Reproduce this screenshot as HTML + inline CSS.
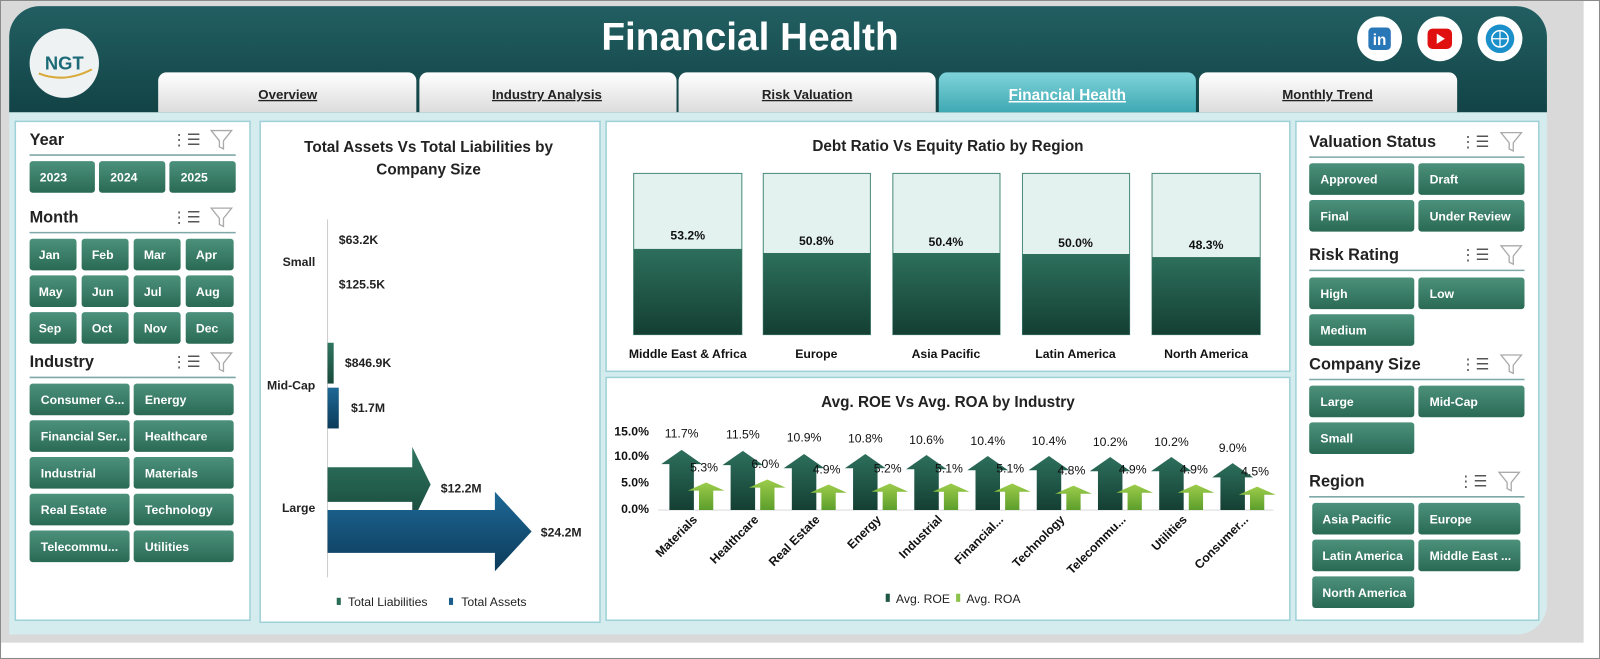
<!DOCTYPE html>
<html><head><meta charset="utf-8"><style>
html,body{margin:0;padding:0;background:#fff;width:1600px;height:659px;overflow:hidden}
svg{display:block}
text{font-family:"Liberation Sans",sans-serif}
.b{font-weight:bold}
.bt{fill:#fff;font-weight:bold;font-size:12px}
.st{fill:#222;font-weight:bold;font-size:16px}
</style></head><body>
<svg width="1600" height="659" viewBox="0 0 1568 646" preserveAspectRatio="none" xmlns="http://www.w3.org/2000/svg">
<defs>
<linearGradient id="hdr" x1="0" y1="0" x2="0" y2="1"><stop offset="0" stop-color="#225f62"/><stop offset="1" stop-color="#124346"/></linearGradient>
<linearGradient id="btn" x1="0" y1="0" x2="0" y2="1"><stop offset="0" stop-color="#4c917b"/><stop offset="1" stop-color="#2a6a55"/></linearGradient>
<linearGradient id="tab" x1="0" y1="0" x2="0" y2="1"><stop offset="0" stop-color="#ffffff"/><stop offset="1" stop-color="#dcdcdc"/></linearGradient>
<linearGradient id="tabA" x1="0" y1="0" x2="0" y2="1"><stop offset="0" stop-color="#7fd3da"/><stop offset="1" stop-color="#3fa9b3"/></linearGradient>
<linearGradient id="dk" x1="0" y1="0" x2="0" y2="1"><stop offset="0" stop-color="#2d6f5c"/><stop offset="1" stop-color="#143f33"/></linearGradient>
<linearGradient id="lg" x1="0" y1="0" x2="0" y2="1"><stop offset="0" stop-color="#9ccc4a"/><stop offset="1" stop-color="#5c9e2c"/></linearGradient>
<linearGradient id="bl" x1="0" y1="0" x2="0" y2="1"><stop offset="0" stop-color="#1e6896"/><stop offset="1" stop-color="#0c3b5a"/></linearGradient>
<linearGradient id="gr" x1="0" y1="0" x2="0" y2="1"><stop offset="0" stop-color="#2f7560"/><stop offset="1" stop-color="#18493b"/></linearGradient>
</defs>
<rect x="0.5" y="0.5" width="1567" height="645" fill="#fff" stroke="#8a8a8a"/>
<rect x="1" y="1" width="1551" height="629" fill="#d9d9d9"/>
<path d="M39,6H1486A30,30 0 0 1 1516,36V592A30,30 0 0 1 1486,622H9V36A30,30 0 0 1 39,6Z" fill="#d4ecee"/>
<path d="M39,6H1486A30,30 0 0 1 1516,36V110H9V36A30,30 0 0 1 39,6Z" fill="url(#hdr)"/>
<text x="735" y="49" text-anchor="middle" fill="#fff" class="b" font-size="38">Financial Health</text>
<circle cx="63" cy="62" r="34" fill="#eef2f2"/>
<text x="63" y="68" text-anchor="middle" fill="#1d6b78" class="b" font-size="18">NGT</text>
<path d="M38,72Q63,82 90,68" stroke="#d9a93a" stroke-width="2" fill="none"/>
<circle cx="1352" cy="38" r="22" fill="#fff"/><rect x="1341" y="27" width="22" height="22" rx="4" fill="#2a77b8"/><text x="1352" y="44" text-anchor="middle" fill="#fff" class="b" font-size="15">in</text>
<circle cx="1411" cy="38" r="22" fill="#fff"/><rect x="1399" y="28" width="24" height="20" rx="5" fill="#e01010"/><path d="M1408,33L1416,38L1408,43Z" fill="#fff"/>
<circle cx="1470" cy="38" r="22" fill="#fff"/><circle cx="1470" cy="38" r="14" fill="#1a8fc9"/><circle cx="1470" cy="38" r="8" fill="none" stroke="#fff" stroke-width="1.5"/><path d="M1462,38H1478M1470,30V46" stroke="#fff" stroke-width="1.2"/>
<g font-size="13" class="b" text-anchor="middle">
<path d="M155,110V79A8,8 0 0 1 163,71H400A8,8 0 0 1 408,79V110Z" fill="url(#tab)"/><text x="282" y="97" fill="#222" text-decoration="underline">Overview</text>
<path d="M411,110V79A8,8 0 0 1 419,71H655A8,8 0 0 1 663,79V110Z" fill="url(#tab)"/><text x="536" y="97" fill="#222" text-decoration="underline">Industry Analysis</text>
<path d="M665,110V79A8,8 0 0 1 673,71H909A8,8 0 0 1 917,79V110Z" fill="url(#tab)"/><text x="791" y="97" fill="#222" text-decoration="underline">Risk Valuation</text>
<path d="M920,110V79A8,8 0 0 1 928,71H1164A8,8 0 0 1 1172,79V110Z" fill="url(#tabA)"/><text x="1046" y="98" fill="#fff" font-size="15" text-decoration="underline">Financial Health</text>
<path d="M1175,110V79A8,8 0 0 1 1183,71H1420A8,8 0 0 1 1428,79V110Z" fill="url(#tab)"/><text x="1301" y="97" fill="#222" text-decoration="underline">Monthly Trend</text>
</g>
<g fill="#fff" stroke="#9fd2d8" stroke-width="1.5">
<rect x="15" y="119" width="230" height="489"/>
<rect x="255" y="119" width="333" height="491"/>
<rect x="594" y="119" width="670" height="245"/>
<rect x="594" y="370" width="670" height="238"/>
<rect x="1270" y="119" width="238" height="489"/>
</g>
<g font-size="16" class="b" fill="#222">
<text x="29" y="142" class="st">Year</text><text x="29" y="218" class="st">Month</text><text x="29" y="360" class="st">Industry</text>
<text x="1283" y="144" class="st">Valuation Status</text><text x="1283" y="255" class="st">Risk Rating</text><text x="1283" y="362" class="st">Company Size</text><text x="1283" y="477" class="st">Region</text>
</g>
<g stroke="#7fa8a8" stroke-width="1.5">
<line x1="29" y1="152" x2="231" y2="152"/><line x1="29" y1="228" x2="231" y2="228"/><line x1="29" y1="370" x2="231" y2="370"/>
<line x1="1283" y1="154" x2="1494" y2="154"/><line x1="1283" y1="265" x2="1494" y2="265"/><line x1="1283" y1="372" x2="1494" y2="372"/><line x1="1283" y1="487" x2="1494" y2="487"/>
</g>
<g font-size="15" fill="#555" font-family="DejaVu Sans">
<text x="168" y="142">⋮☰</text><text x="168" y="218">⋮☰</text><text x="168" y="360">⋮☰</text>
<text x="1431" y="144">⋮☰</text><text x="1431" y="255">⋮☰</text><text x="1431" y="362">⋮☰</text><text x="1429" y="477">⋮☰</text>
</g>
<g fill="none" stroke="#aaa" stroke-width="1.3">
<path d="M207,128H227L219,138V146L215,144V138Z"/><path d="M207,204H227L219,214V222L215,220V214Z"/><path d="M207,346H227L219,356V364L215,362V356Z"/>
<path d="M1471,130H1491L1483,140V148L1479,146V140Z"/><path d="M1471,241H1491L1483,251V259L1479,257V251Z"/><path d="M1471,348H1491L1483,358V366L1479,364V358Z"/><path d="M1469,463H1489L1481,473V481L1477,479V473Z"/>
</g>
<g fill="url(#btn)">
<rect x="29" y="158" width="64" height="31" rx="3"/><rect x="97" y="158" width="65" height="31" rx="3"/><rect x="166" y="158" width="65" height="31" rx="3"/>
<rect x="29" y="234" width="46" height="31" rx="3"/><rect x="80" y="234" width="46" height="31" rx="3"/><rect x="131" y="234" width="46" height="31" rx="3"/><rect x="182" y="234" width="47" height="31" rx="3"/>
<rect x="29" y="270" width="46" height="31" rx="3"/><rect x="80" y="270" width="46" height="31" rx="3"/><rect x="131" y="270" width="46" height="31" rx="3"/><rect x="182" y="270" width="47" height="31" rx="3"/>
<rect x="29" y="306" width="46" height="31" rx="3"/><rect x="80" y="306" width="46" height="31" rx="3"/><rect x="131" y="306" width="46" height="31" rx="3"/><rect x="182" y="306" width="47" height="31" rx="3"/>
<rect x="29" y="376" width="98" height="31" rx="3"/><rect x="131" y="376" width="98" height="31" rx="3"/>
<rect x="29" y="412" width="98" height="31" rx="3"/><rect x="131" y="412" width="98" height="31" rx="3"/>
<rect x="29" y="448" width="98" height="31" rx="3"/><rect x="131" y="448" width="98" height="31" rx="3"/>
<rect x="29" y="484" width="98" height="31" rx="3"/><rect x="131" y="484" width="98" height="31" rx="3"/>
<rect x="29" y="520" width="98" height="31" rx="3"/><rect x="131" y="520" width="98" height="31" rx="3"/>
<rect x="1283" y="160" width="103" height="31" rx="3"/><rect x="1390" y="160" width="104" height="31" rx="3"/>
<rect x="1283" y="196" width="103" height="31" rx="3"/><rect x="1390" y="196" width="104" height="31" rx="3"/>
<rect x="1283" y="272" width="103" height="31" rx="3"/><rect x="1390" y="272" width="104" height="31" rx="3"/>
<rect x="1283" y="308" width="103" height="31" rx="3"/>
<rect x="1283" y="378" width="103" height="31" rx="3"/><rect x="1390" y="378" width="104" height="31" rx="3"/>
<rect x="1283" y="414" width="103" height="31" rx="3"/>
<rect x="1286" y="493" width="100" height="31" rx="3"/><rect x="1390" y="493" width="100" height="31" rx="3"/>
<rect x="1286" y="529" width="100" height="31" rx="3"/><rect x="1390" y="529" width="100" height="31" rx="3"/>
<rect x="1286" y="565" width="100" height="31" rx="3"/>
</g>
<g class="bt">
<text x="39" y="178">2023</text><text x="108" y="178">2024</text><text x="177" y="178">2025</text>
<text x="38" y="254">Jan</text><text x="90" y="254">Feb</text><text x="141" y="254">Mar</text><text x="192" y="254">Apr</text>
<text x="38" y="290">May</text><text x="90" y="290">Jun</text><text x="141" y="290">Jul</text><text x="192" y="290">Aug</text>
<text x="38" y="326">Sep</text><text x="90" y="326">Oct</text><text x="141" y="326">Nov</text><text x="192" y="326">Dec</text>
<text x="40" y="396">Consumer G...</text><text x="142" y="396">Energy</text>
<text x="40" y="432">Financial Ser...</text><text x="142" y="432">Healthcare</text>
<text x="40" y="468">Industrial</text><text x="142" y="468">Materials</text>
<text x="40" y="504">Real Estate</text><text x="142" y="504">Technology</text>
<text x="40" y="540">Telecommu...</text><text x="142" y="540">Utilities</text>
<text x="1294" y="180">Approved</text><text x="1401" y="180">Draft</text>
<text x="1294" y="216">Final</text><text x="1401" y="216">Under Review</text>
<text x="1294" y="292">High</text><text x="1401" y="292">Low</text>
<text x="1294" y="328">Medium</text>
<text x="1294" y="398">Large</text><text x="1401" y="398">Mid-Cap</text>
<text x="1294" y="434">Small</text>
<text x="1296" y="513">Asia Pacific</text><text x="1401" y="513">Europe</text>
<text x="1296" y="549">Latin America</text><text x="1401" y="549">Middle East ...</text>
<text x="1296" y="585">North America</text>
</g>
<g class="b" fill="#222" text-anchor="middle" font-size="15"><text x="420" y="149">Total Assets Vs Total Liabilities by</text><text x="420" y="171">Company Size</text></g>
<line x1="321" y1="215" x2="321" y2="566" stroke="#ccc"/>
<g font-size="12" fill="#222" class="b">
<text x="309" y="261" text-anchor="end">Small</text><text x="309" y="382" text-anchor="end">Mid-Cap</text><text x="309" y="502" text-anchor="end">Large</text>
<text x="332" y="239">$63.2K</text><text x="332" y="283">$125.5K</text><text x="338" y="360">$846.9K</text><text x="344" y="404">$1.7M</text><text x="432" y="483">$12.2M</text><text x="530" y="526">$24.2M</text>
</g>
<rect x="321" y="336" width="6" height="40" fill="url(#gr)"/>
<rect x="321" y="380" width="11" height="40" fill="url(#bl)"/>
<path d="M321,458H404V438L422,475L404,512V492H321Z" fill="url(#gr)"/>
<path d="M321,500H485V482L521,521L485,560V542H321Z" fill="url(#bl)"/>
<g font-size="12" fill="#222"><rect x="330" y="586" width="4" height="7" fill="#2a6b55"/><text x="341" y="594">Total Liabilities</text><rect x="440" y="586" width="4" height="7" fill="#1b5e8c"/><text x="452" y="594">Total Assets</text></g>
<text x="929" y="148" text-anchor="middle" class="b" font-size="15" fill="#222">Debt Ratio Vs Equity Ratio by Region</text>
<g stroke="#4a8a7a" stroke-width="1">
<rect x="621" y="170" width="106" height="158" fill="#e3f2ee"/><rect x="748" y="170" width="105" height="158" fill="#e3f2ee"/><rect x="875" y="170" width="105" height="158" fill="#e3f2ee"/><rect x="1002" y="170" width="105" height="158" fill="#e3f2ee"/><rect x="1129" y="170" width="106" height="158" fill="#e3f2ee"/>
</g>
<rect x="621" y="244" width="106" height="84" fill="url(#dk)"/><rect x="748" y="248" width="105" height="80" fill="url(#dk)"/><rect x="875" y="248" width="105" height="80" fill="url(#dk)"/><rect x="1002" y="249" width="105" height="79" fill="url(#dk)"/><rect x="1129" y="252" width="106" height="76" fill="url(#dk)"/>
<g font-size="12" class="b" fill="#111" text-anchor="middle">
<text x="674" y="235">53.2%</text><text x="800" y="240">50.8%</text><text x="927" y="241">50.4%</text><text x="1054" y="242">50.0%</text><text x="1182" y="244">48.3%</text>
<text x="674" y="351">Middle East &amp; Africa</text><text x="800" y="351">Europe</text><text x="927" y="351">Asia Pacific</text><text x="1054" y="351">Latin America</text><text x="1182" y="351">North America</text>
</g>
<text x="929" y="399" text-anchor="middle" class="b" font-size="15" fill="#222">Avg. ROE Vs Avg. ROA by Industry</text>
<g font-size="12" class="b" fill="#111" text-anchor="end"><text x="636" y="427">15.0%</text><text x="636" y="451">10.0%</text><text x="636" y="477">5.0%</text><text x="636" y="503">0.0%</text></g>
<line x1="645" y1="500" x2="1248" y2="500" stroke="#ddd"/>
<g fill="url(#dk)">
<path d="M656,500V455H648L668,441L688,455H680V500Z"/><path d="M716,500V456H708L728,442L748,456H740V500Z"/><path d="M776,500V459H768L788,445L808,459H800V500Z"/><path d="M836,500V459H828L848,445L868,459H860V500Z"/><path d="M896,500V460H888L908,446L928,460H920V500Z"/><path d="M956,500V461H948L968,447L988,461H980V500Z"/><path d="M1016,500V461H1008L1028,447L1048,461H1040V500Z"/><path d="M1076,500V462H1068L1088,448L1108,462H1100V500Z"/><path d="M1136,500V462H1128L1148,448L1168,462H1160V500Z"/><path d="M1196,500V468H1188L1208,454L1228,468H1220V500Z"/>
</g>
<g fill="url(#lg)">
<path d="M685,500V481H674L692,473L710,481H699V500Z"/><path d="M745,500V478H734L752,470L770,478H759V500Z"/><path d="M805,500V483H794L812,475L830,483H819V500Z"/><path d="M865,500V482H854L872,474L890,482H879V500Z"/><path d="M925,500V482H914L932,474L950,482H939V500Z"/><path d="M985,500V482H974L992,474L1010,482H999V500Z"/><path d="M1045,500V484H1034L1052,476L1070,484H1059V500Z"/><path d="M1105,500V483H1094L1112,475L1130,483H1119V500Z"/><path d="M1165,500V483H1154L1172,475L1190,483H1179V500Z"/><path d="M1225,500V485H1214L1232,477L1250,485H1239V500Z"/>
</g>
<g font-size="12" fill="#111" text-anchor="middle">
<text x="668" y="429">11.7%</text><text x="728" y="430">11.5%</text><text x="788" y="433">10.9%</text><text x="848" y="434">10.8%</text><text x="908" y="435">10.6%</text><text x="968" y="436">10.4%</text><text x="1028" y="436">10.4%</text><text x="1088" y="437">10.2%</text><text x="1148" y="437">10.2%</text><text x="1208" y="443">9.0%</text>
<text x="690" y="462">5.3%</text><text x="750" y="459">6.0%</text><text x="810" y="464">4.9%</text><text x="870" y="463">5.2%</text><text x="930" y="463">5.1%</text><text x="990" y="463">5.1%</text><text x="1050" y="465">4.8%</text><text x="1110" y="464">4.9%</text><text x="1170" y="464">4.9%</text><text x="1230" y="466">4.5%</text>
</g>
<g font-size="12" fill="#111" text-anchor="end" class="b">
<text transform="translate(684,510) rotate(-45)">Materials</text><text transform="translate(744,510) rotate(-45)">Healthcare</text><text transform="translate(804,510) rotate(-45)">Real Estate</text><text transform="translate(864,510) rotate(-45)">Energy</text><text transform="translate(924,510) rotate(-45)">Industrial</text><text transform="translate(984,510) rotate(-45)">Financial...</text><text transform="translate(1044,510) rotate(-45)">Technology</text><text transform="translate(1104,510) rotate(-45)">Telecommu...</text><text transform="translate(1164,510) rotate(-45)">Utilities</text><text transform="translate(1224,510) rotate(-45)">Consumer...</text>
</g>
<g font-size="12" fill="#222"><rect x="868" y="582" width="4" height="8" fill="#1f5747"/><text x="878" y="591">Avg. ROE</text><rect x="937" y="582" width="4" height="8" fill="#8bc34a"/><text x="947" y="591">Avg. ROA</text></g>
</svg>
</body></html>
